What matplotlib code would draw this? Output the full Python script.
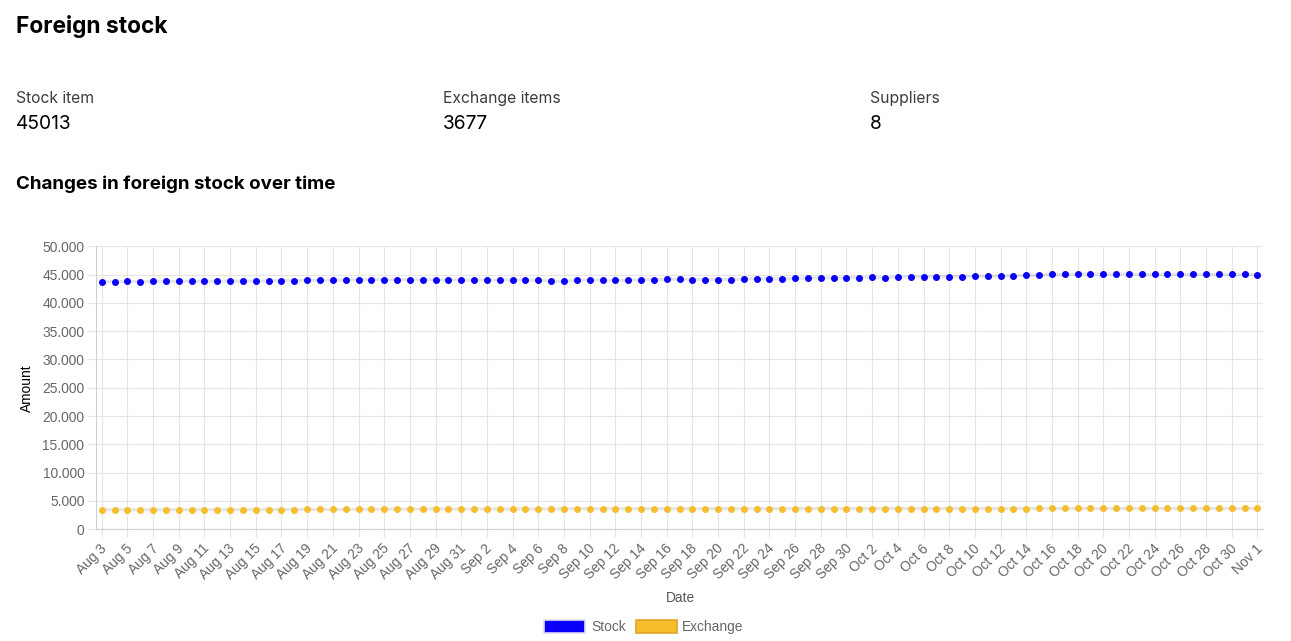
import matplotlib
matplotlib.use("Agg")
import matplotlib.pyplot as plt
import matplotlib.patches as mpatches
import matplotlib.transforms as mtransforms
from matplotlib.ticker import FuncFormatter, FixedLocator
import pandas as pd

# ---------------------------------------------------------------------------
# Data
# ---------------------------------------------------------------------------

dates = pd.date_range("2023-08-03", "2023-11-01", freq="D")

stock = [
    43740, 43745, 43810, 43760, 43805, 43812, 43818, 43809, 43821, 43826,
    43868, 43872, 43865, 43880, 43930, 43925, 43985, 43990, 44040, 44045,
    44090, 44098, 44102, 44110, 44095, 44100, 44080, 44075, 44050, 44046,
    44052, 44040, 44048, 44044, 44050, 43815, 43805, 43990, 44045, 43985,
    43980, 43992, 44040, 44105, 44160, 44170, 44110, 44100, 44108, 44112,
    44225, 44280, 44285, 44220, 44340, 44395, 44400, 44390, 44455, 44450,
    44490, 44400, 44575, 44580, 44630, 44635, 44640, 44632, 44690, 44695,
    44750, 44755, 44930, 44870, 45050, 45045, 45105, 45110, 45100, 45108,
    45112, 45050, 45040, 45045, 45038, 45030, 45025, 45028, 45020, 45018,
    45013,
]

exchange = [
    3448, 3452, 3455, 3450, 3458, 3460, 3462, 3465, 3463, 3468,
    3470, 3472, 3475, 3478, 3480, 3482, 3510, 3515, 3520, 3522,
    3540, 3545, 3575, 3580, 3585, 3588, 3590, 3592, 3595, 3596,
    3598, 3600, 3602, 3600, 3604, 3605, 3606, 3640, 3642, 3645,
    3646, 3648, 3650, 3652, 3654, 3655, 3656, 3658, 3660, 3661,
    3662, 3663, 3664, 3665, 3666, 3666, 3667, 3668, 3668, 3669,
    3670, 3670, 3671, 3671, 3672, 3672, 3672, 3673, 3673, 3673,
    3674, 3674, 3674, 3675, 3675, 3675, 3675, 3676, 3676, 3676,
    3676, 3676, 3676, 3677, 3677, 3677, 3677, 3677, 3677, 3677,
    3677,
]

summary_labels = ["Stock item", "Exchange items", "Suppliers"]
summary_values = ["45013", "3677", "8"]

series_names = ["Stock", "Exchange"]
y_ticks = list(range(0, 50001, 5000))

# ---------------------------------------------------------------------------
# Figure
# ---------------------------------------------------------------------------

W, H = 1291, 641
fig = plt.figure(figsize=(W / 100, H / 100), dpi=100)

PAGE_FONT = ["Inter", "DejaVu Sans"]
CHART_FONT = ["Liberation Sans", "DejaVu Sans"]
CHART_FS = 9.9
BLUE, YELLOW = "#0a00fa", "#f6be2c"


def px(x, y):
    """pixel (from top-left) -> figure fraction"""
    return x / W, 1 - y / H


fig.text(*px(16, 33.3), "Foreign stock", family=PAGE_FONT, fontsize=16.4,
         fontweight="bold", color="black", va="baseline", ha="left")

for x0, lbl, val in zip([16, 443, 870], summary_labels, summary_values):
    fig.text(*px(x0, 103.3), lbl, family=PAGE_FONT, fontsize=11.3,
             color="#3c3c3c", va="baseline", ha="left")
    fig.text(*px(x0, 129.3), val, family=PAGE_FONT, fontsize=13.8,
             color="black", va="baseline", ha="left")

fig.text(*px(16, 189), "Changes in foreign stock over time", family=PAGE_FONT,
         fontsize=13.5, fontweight="bold", color="black", va="baseline", ha="left")

# axes box
left, right, top, bottom = 95.7, 1263, 246.3, 529.3
ax = fig.add_axes([left / W, 1 - bottom / H, (right - left) / W, (bottom - top) / H])

xs = list(range(len(dates)))
line_kw = dict(color=(0, 0, 0, 0.1), lw=2.2, zorder=2, solid_capstyle="round")
ax.plot(xs, stock, **line_kw)
ax.plot(xs, exchange, **line_kw)
ax.plot(xs, stock, ls="none", marker="o", ms=4.0, color=BLUE, mec=BLUE, zorder=3)
ax.plot(xs, exchange, ls="none", marker="o", ms=4.0, color=YELLOW, mec=YELLOW, zorder=3)

ax.set_xlim(-0.47, 90.44)
ax.set_ylim(0, 50000)

tick_pos = xs[::2]
tick_lbl = [f"{d:%b} {d.day}" for d in dates[::2]]
ax.xaxis.set_major_locator(FixedLocator(tick_pos))
ax.set_xticklabels(tick_lbl)
ax.yaxis.set_major_locator(FixedLocator(y_ticks))
ax.yaxis.set_major_formatter(FuncFormatter(lambda v, p: f"{v:,.0f}".replace(",", ".")))

grid_c = "#e5e5e5"
ax.grid(True, color=grid_c, lw=0.8, zorder=0)
ax.set_axisbelow(True)
for s in ["top", "right"]:
    ax.spines[s].set_visible(False)
for s in ["left", "bottom"]:
    ax.spines[s].set_color("#cfcfcf")
    ax.spines[s].set_linewidth(0.8)

ax.tick_params(axis="x", length=5.8, width=0.8, color=grid_c, pad=6.5,
               labelsize=CHART_FS, labelcolor="#666666")
ax.tick_params(axis="y", length=6.2, width=0.8, color=grid_c, pad=2.0,
               labelsize=CHART_FS, labelcolor="#666666")
for t in ax.get_yticklabels():
    t.set_family(CHART_FONT)

shift = mtransforms.ScaledTranslation(3 / 100, 0, fig.dpi_scale_trans)
for t in ax.get_xticklabels():
    t.set_family(CHART_FONT)
    t.set_rotation(45)
    t.set_ha("right")
    t.set_va("center")
    t.set_rotation_mode("anchor")
    t.set_transform(t.get_transform() + shift)

fig.text(*px(26.7, 387.8), "Amount", family=CHART_FONT, fontsize=CHART_FS,
         color="black", rotation=90, ha="center", va="center")
fig.text(*px(680, 598), "Date", family=CHART_FONT, fontsize=CHART_FS,
         color="#555555", ha="center", va="center")

# legend drawn by hand so the boxes sit where the reference has them
legend_items = [
    (544.3, 591.7, BLUE, "#dcdcf0", series_names[0]),
    (635.7, 682.3, YELLOW, "#dfa62a", series_names[1]),
]
for bx, tx, fc, ec, name in legend_items:
    x0, y0 = px(bx, 633.3)
    fig.patches.append(mpatches.Rectangle(
        (x0, y0), 41 / W, 13.3 / H, transform=fig.transFigure,
        facecolor=fc, edgecolor=ec, lw=1.2))
    fig.text(*px(tx, 626.8), name, family=CHART_FONT, fontsize=CHART_FS,
             color="#666666", ha="left", va="center")

fig.savefig("out.png", dpi=100)
